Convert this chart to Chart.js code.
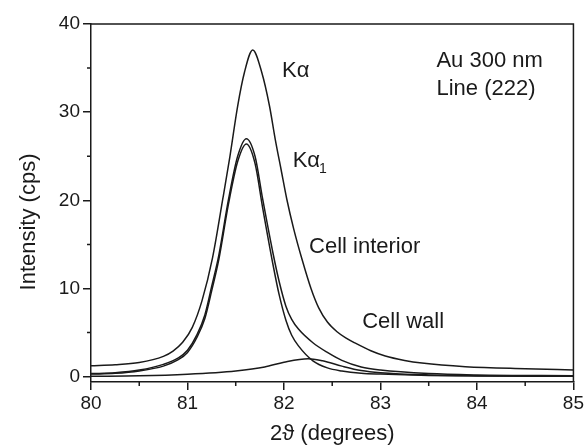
<!DOCTYPE html>
<html>
<head>
<meta charset="utf-8">
<script src="https://cdn.jsdelivr.net/npm/chart.js@4/dist/chart.umd.min.js"></script>
<style>
  html,body{margin:0;padding:0;background:#fff;}
  #wrap{width:586px;height:446px;}
</style>
</head>
<body>
<div id="wrap"><canvas id="chart" width="586" height="446"></canvas></div>
<script>
// === Datos ===
const xTicks = [80, 81, 82, 83, 84, 85];
const yTicks = [0, 10, 20, 30, 40];
const xMinor = [80.5, 81.5, 82.5, 83.5, 84.5];
const yMinor = [5, 15, 25, 35];

// K alpha (total)
const kaX = [80, 80.25, 80.5, 80.75, 80.85, 80.95, 81.05, 81.15, 81.26, 81.365, 81.44, 81.52, 81.59, 81.676, 81.77, 81.85, 81.91, 81.97, 82.03, 82.1, 82.19, 82.28, 82.36, 82.45, 82.55, 82.64, 82.74, 82.9, 83.05, 83.25, 83.43, 83.88, 84.5, 85];
const kaY = [1.25, 1.35, 1.6, 2.3, 2.9, 3.9, 5.6, 8.6, 13.5, 20.1, 25.0, 30.7, 34.5, 37.05, 34.5, 30.7, 26.9, 23.5, 20.1, 16.8, 13.2, 10.0, 7.8, 6.2, 5.1, 4.4, 3.8, 2.95, 2.35, 1.85, 1.55, 1.14, 0.9, 0.76];

// K alpha 1 (mismo eje x que cell interior)
const ka1X = [80, 80.25, 80.5, 80.75, 80.9, 81.0, 81.1, 81.18, 81.25, 81.325, 81.425, 81.52, 81.61, 81.70, 81.78, 81.89, 81.95, 82.02, 82.08, 82.15, 82.3, 82.45, 82.6, 82.8, 83.0, 83.5, 84, 85];
const ka1Y = [0.35, 0.45, 0.75, 1.4, 2.1, 3.0, 4.8, 7.0, 10.2, 13.8, 20.1, 25.0, 27.0, 25.0, 20.1, 13.8, 10.8, 8.0, 6.5, 5.4, 3.85, 2.75, 1.85, 1.1, 0.75, 0.35, 0.2, 0.12];

// Cell interior
const ciX = ka1X;
const ciY = [0.3, 0.38, 0.65, 1.2, 1.9, 2.75, 4.5, 6.6, 9.7, 13.3, 19.6, 24.4, 26.4, 24.2, 19.1, 12.5, 9.3, 6.4, 4.7, 3.5, 1.8, 1.0, 0.65, 0.4, 0.3, 0.15, 0.08, 0.04];

// Cell wall
const cwX = [80, 80.5, 81.0, 81.5, 81.8, 82.0, 82.25, 82.4, 82.6, 82.8, 83.0, 83.5, 84, 85];
const cwY = [0.05, 0.1, 0.28, 0.65, 1.1, 1.65, 2.05, 1.8, 1.2, 0.7, 0.45, 0.2, 0.12, 0.08];

const FONT = '"Liberation Sans", Arial, sans-serif';
const INK = '#1a1a1a';

function pts(xs, ys){ return xs.map((x,i)=>({x:x, y:ys[i]})); }
function serie(label, xs, ys){
  return {label:label, data:pts(xs,ys), borderColor:INK, borderWidth:1.5,
    pointRadius:0, fill:false, cubicInterpolationMode:'monotone'};
}

// Textos sobre el grafico + ticks menores + marco
const extras = {
  id:'extras',
  afterDraw(chart){
    const ctx = chart.ctx;
    const xs = chart.scales.x, ys = chart.scales.y;
    const a = chart.chartArea;
    ctx.save();
    ctx.strokeStyle = INK;
    ctx.lineWidth = 1.5;
    // marco superior y derecho
    ctx.beginPath();
    ctx.moveTo(a.left, a.top); ctx.lineTo(a.right, a.top); ctx.lineTo(a.right, a.bottom);
    ctx.stroke();
    // ticks menores
    ctx.beginPath();
    xMinor.forEach(v=>{ const p = xs.getPixelForValue(v); ctx.moveTo(p, a.bottom); ctx.lineTo(p, a.bottom+4); });
    yMinor.forEach(v=>{ const p = ys.getPixelForValue(v); ctx.moveTo(a.left, p); ctx.lineTo(a.left-4, p); });
    ctx.stroke();

    ctx.fillStyle = INK;
    ctx.textBaseline = 'alphabetic';
    ctx.textAlign = 'left';
    function txt(s, x, y, size){
      ctx.font = size + 'px ' + FONT;
      ctx.fillText(s, xs.getPixelForValue(x), ys.getPixelForValue(y));
    }
    txt('K\u03b1', 81.98, 33.95, 22);
    txt('K\u03b1', 82.09, 23.8, 22);
    ctx.font = '22px ' + FONT;
    const w = ctx.measureText('K\u03b1').width;
    ctx.font = '14px ' + FONT;
    ctx.fillText('1', xs.getPixelForValue(82.09) + w - 1, ys.getPixelForValue(23.8) + 6);
    txt('Cell interior', 82.26, 14.05, 22);
    txt('Cell wall', 82.81, 5.5, 22);
    txt('Au 300 nm', 83.58, 35.1, 22);
    txt('Line (222)', 83.58, 32.0, 22);

    // titulos de ejes
    ctx.font = '22px ' + FONT;
    ctx.textAlign = 'center';
    ctx.fillText('2\u03d1 (degrees)', (a.left+a.right)/2, 440);
    ctx.save();
    ctx.translate(35, 222);
    ctx.rotate(-Math.PI/2);
    ctx.fillText('Intensity (cps)', 0, 0);
    ctx.restore();
    ctx.restore();
  }
};

new Chart(document.getElementById('chart'), {
  type:'line',
  data:{
    datasets:[
      serie('K\u03b1', kaX, kaY),
      serie('K\u03b11', ka1X, ka1Y),
      serie('Cell interior', ciX, ciY),
      serie('Cell wall', cwX, cwY)
    ]
  },
  options:{
    responsive:false,
    animation:false,
    layout:{padding:{left:0, top:24, right:11, bottom:0}},
    plugins:{legend:{display:false}, tooltip:{enabled:false}},
    scales:{
      x:{
        type:'linear', min:80, max:85,
        afterBuildTicks(s){ s.ticks = xTicks.map(v=>({value:v})); },
        afterFit(s){ s.height = 64; },
        grid:{drawOnChartArea:false, drawTicks:true, tickLength:8, color:INK, lineWidth:1.5},
        border:{display:true, color:INK, width:1.5},
        ticks:{color:INK, font:{family:FONT, size:19}, padding:2, maxRotation:0}
      },
      y:{
        type:'linear', min:-0.6, max:40,
        afterBuildTicks(s){ s.ticks = yTicks.map(v=>({value:v})); },
        afterFit(s){ s.width = 91; },
        grid:{drawOnChartArea:false, drawTicks:true, tickLength:8, color:INK, lineWidth:1.5},
        border:{display:true, color:INK, width:1.5},
        ticks:{color:INK, font:{family:FONT, size:19}, padding:3}
      }
    }
  },
  plugins:[extras]
});
</script>
</body>
</html>
